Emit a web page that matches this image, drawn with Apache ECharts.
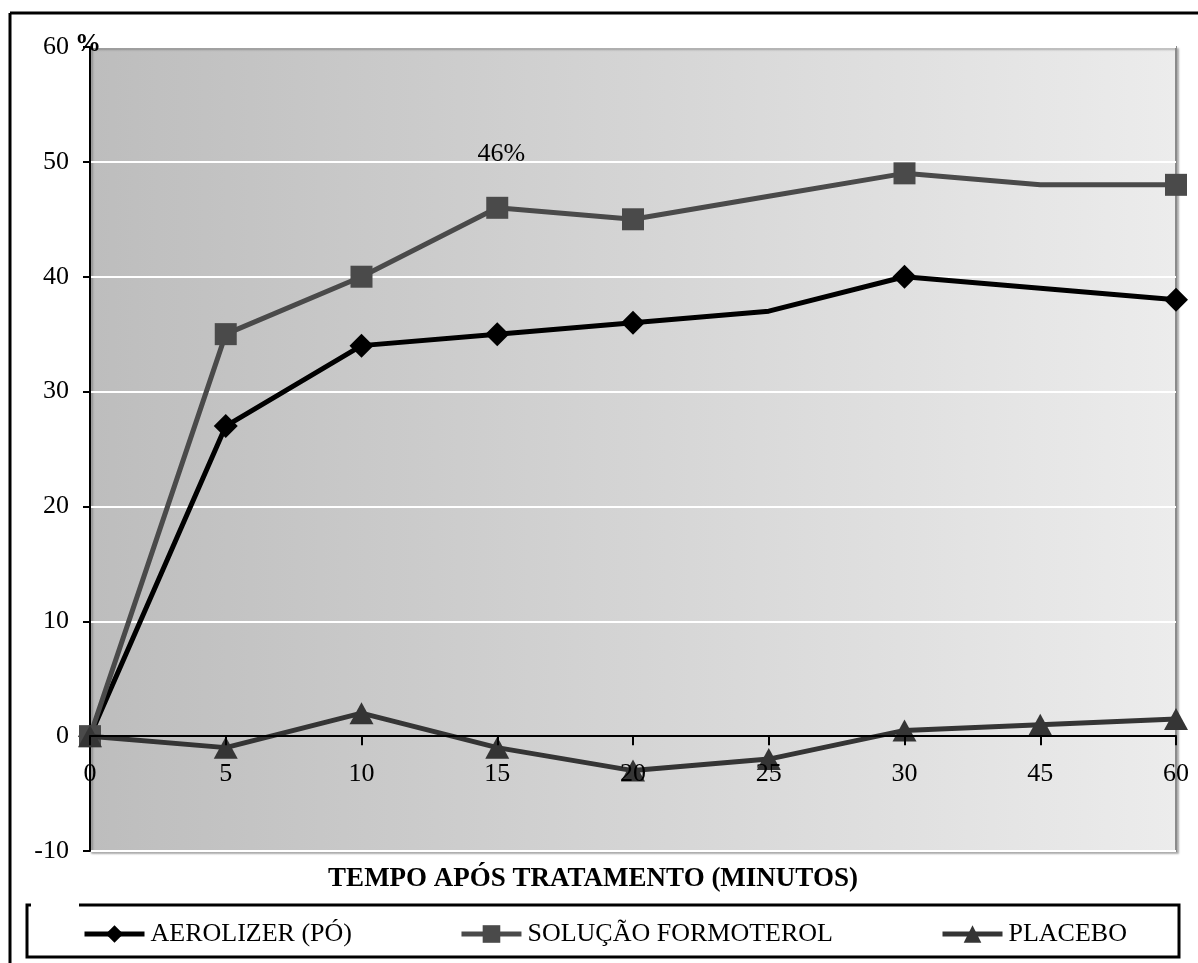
<!DOCTYPE html>
<html>
<head>
<meta charset="utf-8">
<script src="https://cdn.jsdelivr.net/npm/echarts@6/dist/echarts.min.js"></script>
<style>
html,body{margin:0;padding:0;background:#fff;}
#chart{width:1198px;height:963px;}
</style>
</head>
<body>
<div id="chart"></div>
<script>
// ---- data ----
const categories = ['0', '5', '10', '15', '20', '25', '30', '45', '60'];
const aerolizer = [0, 27, 34, 35, 36, 37, 40, 39, 38];
const solucao   = [0, 35, 40, 46, 45, 47, 49, 48, 48];
const placebo   = [0, -1, 2, -1, -3, -2, 0.5, 1, 1.5];
const seriesNames = ['AEROLIZER (PÓ)', 'SOLUÇÃO FORMOTEROL', 'PLACEBO'];
// time points drawn without a marker on the first two lines
const unmarked = ['25', '45'];
const annotationText = '46%';
const xTitle = 'TEMPO APÓS TRATAMENTO (MINUTOS)';
const yUnit = '%';
const yMin = -10, yMax = 60, yStep = 10;

const FONT = '"Liberation Serif", "Times New Roman", serif';

const GRID = { left: 90, right: 22, top: 47, bottom: 112 };
const plotHeight = 963 - GRID.top - GRID.bottom;
// shift the x axis (line, ticks and labels) up to the value 0
const zeroOffset = -plotHeight * (0 - yMin) / (yMax - yMin);

function withMarkers(values) {
  return values.map((v, i) => unmarked.indexOf(categories[i]) >= 0
    ? { value: v, symbol: 'none' }
    : v);
}

const chart = echarts.init(document.getElementById('chart'), null, { renderer: 'canvas' });

const option = {
  animation: false,
  backgroundColor: '#fff',
  textStyle: { fontFamily: FONT },
  grid: {
    left: GRID.left, right: GRID.right, top: GRID.top, bottom: GRID.bottom,
    show: true,
    backgroundColor: new echarts.graphic.LinearGradient(0, 0, 1, 0, [
      { offset: 0, color: '#bdbdbd' },
      { offset: 1, color: '#ececec' }
    ]),
    borderColor: '#8a8a8a',
    borderWidth: 2,
    shadowColor: 'rgba(0,0,0,0.25)',
    shadowBlur: 2,
    shadowOffsetX: 2,
    shadowOffsetY: 2
  },
  xAxis: {
    type: 'category',
    data: categories,
    boundaryGap: false,
    position: 'bottom',
    offset: zeroOffset,
    z: 6,
    axisLine: { show: true, onZero: false, lineStyle: { color: '#000', width: 2 } },
    axisTick: { show: true, inside: false, length: 9, lineStyle: { color: '#000', width: 2 } },
    axisLabel: { color: '#000', fontSize: 26, fontFamily: FONT, margin: 25, interval: 0 },
    splitLine: { show: false }
  },
  yAxis: {
    type: 'value',
    min: yMin, max: yMax, interval: yStep,
    axisLine: { show: true, lineStyle: { color: '#000', width: 2 } },
    axisTick: { show: true, inside: false, length: 7, lineStyle: { color: '#000', width: 2 } },
    axisLabel: { color: '#000', fontSize: 26, fontFamily: FONT, margin: 21 },
    splitLine: { show: true, lineStyle: { color: '#ffffff', width: 2 } }
  },
  legend: {
    left: 77, top: 916,
    itemWidth: 60, itemHeight: 22, itemGap: 107,
    lineStyle: { width: 5 },
    textStyle: { color: '#000', fontSize: 26, fontFamily: FONT, padding: [0, 0, 0, 1] },
    data: seriesNames
  },
  series: [
    {
      name: seriesNames[0], type: 'line',
      data: withMarkers(aerolizer),
      symbol: 'diamond', symbolSize: [24, 24],
      lineStyle: { color: '#000', width: 5 },
      itemStyle: { color: '#000' },
      z: 3
    },
    {
      name: seriesNames[1], type: 'line',
      data: withMarkers(solucao),
      symbol: 'rect', symbolSize: 22,
      lineStyle: { color: '#4a4a4a', width: 5 },
      itemStyle: { color: '#4a4a4a' },
      z: 4,
      markPoint: {
        symbol: 'circle', symbolSize: 0,
        label: { show: true, formatter: annotationText, position: 'inside', color: '#000', fontSize: 26, fontFamily: FONT, offset: [4, 0] },
        data: [{ coord: ['15', 50.7] }]
      }
    },
    {
      name: seriesNames[2], type: 'line',
      data: placebo,
      symbol: 'triangle', symbolSize: [24, 22],
      lineStyle: { color: '#353535', width: 5 },
      itemStyle: { color: '#353535' },
      z: 5
    }
  ],
  graphic: [
    // outer frame (top and left edges visible in the reference)
    { type: 'line', shape: { x1: 10, y1: 13, x2: 1198, y2: 13 }, style: { stroke: '#000', lineWidth: 3 }, silent: true },
    { type: 'line', shape: { x1: 10, y1: 13, x2: 10, y2: 963 }, style: { stroke: '#000', lineWidth: 3 }, silent: true },
    // legend box
    { type: 'polyline', shape: { points: [[31, 905], [27, 905], [27, 957], [1179, 957], [1179, 905], [79, 905]] }, style: { stroke: '#000', lineWidth: 3, fill: null }, silent: true },
    // axis titles
    { type: 'text', x: 593, y: 879, style: { text: xTitle, fill: '#000', font: 'bold 27px ' + FONT, textAlign: 'center', textVerticalAlign: 'middle' }, silent: true, z: 10 },
    { type: 'text', x: 88, y: 44, style: { text: yUnit, fill: '#000', font: 'bold 26px ' + FONT, textAlign: 'center', textVerticalAlign: 'middle' }, silent: true, z: 10 }
  ]
};

chart.setOption(option);
</script>
</body>
</html>
